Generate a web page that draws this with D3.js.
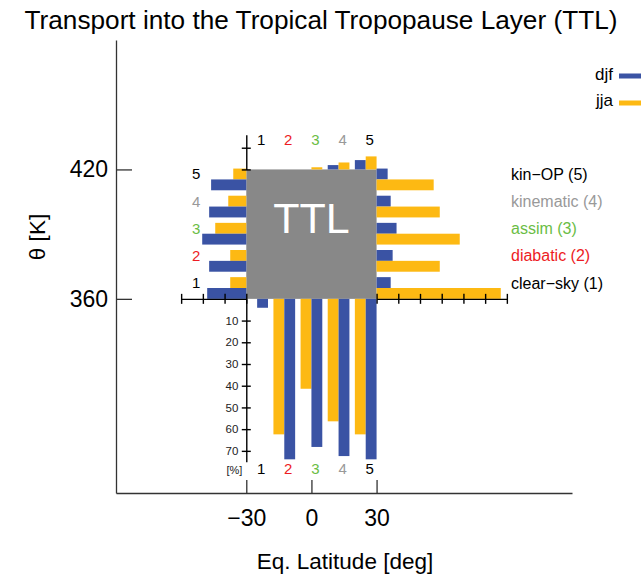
<!DOCTYPE html>
<html lang="en">
<head>
    <meta charset="UTF-8">
    <title>Transport into the TTL</title>
    <script src="https://cdn.jsdelivr.net/npm/d3@7"></script>
    <style type="text/css">
        body { margin: 0; background: #fff; }
        text { font-family: "Liberation Sans", Arial, sans-serif; }
        .main path, .main line { stroke: #333; stroke-width: 1.3; fill: none; }
        .inner path, .inner line { stroke: #000; stroke-width: 1.4; fill: none; }
    </style>
</head>
<body>
<script>
// categories (trajectory types)
const groups = [1, 2, 3, 4, 5];
const groupNames = ["clear\u2212sky (1)", "diabatic (2)", "assim (3)", "kinematic (4)", "kin\u2212OP (5)"];
const seasons = ["djf", "jja"];

// percent of trajectories, per side of the TTL box
const leftDjf = [18, 17.1, 20.3, 17.1, 16.2];
const leftJja = [7.4, 7.4, 14.3, 8.3, 6.0];
const rightDjf = [6.5, 7.4, 9.2, 6.5, 5.1];
const rightJja = [57.2, 29.1, 38.3, 29.1, 26.3];
const topDjf = [0, 0, 0, 2.0, 4.3];
const topJja = [0, 0, 1.0, 3.2, 6.0];
const bottomDjf = [4.1, 73.9, 68.2, 72.4, 73.9];
const bottomJja = [0, 62.4, 41.4, 56.4, 62.4];

// tick labels
const latTicks = [-30, 0, 30];
const thetaTicks = [360, 420];
const pctTicks = [10, 20, 30, 40, 50, 60, 70];

const blue = "#3a53a4", yellow = "#fdb913";
const labelColors = ["#000", "#ed1c24", "#6abd45", "#999", "#000"];

const w = 644, h = 575;
const svg = d3.select("body").append("svg")
    .attr("width", w).attr("height", h);

const x = d3.scaleLinear().domain([-90, 120]).range([116, 572]);
const y = d3.scaleLinear().domain([270, 480]).range([493, 40]);
// percent -> pixels, same unit as one degree latitude
const p = d3.scaleLinear().domain([0, 10]).range([0, x(10) - x(0)]);
const g = d3.scalePoint().domain(groups).range([p(5), p(55)]);
const bw = p(5);

const x0 = x(-30), x1 = x(30), yTop = y(420), yBot = y(360);

// TTL box
svg.append("rect")
    .attr("x", x0).attr("y", yTop)
    .attr("width", x1 - x0).attr("height", yBot - yTop)
    .attr("fill", "#888888");
svg.append("text")
    .attr("x", (x0 + x1) / 2).attr("y", yTop + 64)
    .attr("text-anchor", "middle")
    .attr("fill", "#fff").attr("font-size", 43)
    .text("TTL");

const bars = svg.append("g");
function addBars(vals, fill, rectFn) {
    bars.selectAll(null).data(groups.map((k, i) => ({ k, v: vals[i] })))
        .enter().append("rect")
        .each(function (d) { d3.select(this).attr("x", rectFn(d).x).attr("y", rectFn(d).y)
            .attr("width", rectFn(d).w).attr("height", rectFn(d).h); })
        .attr("fill", fill);
}
// bottom: jja left of boundary, djf right
addBars(bottomJja, yellow, d => ({ x: x0 + g(d.k) - bw, y: yBot, w: bw, h: p(d.v) }));
addBars(bottomDjf, blue, d => ({ x: x0 + g(d.k), y: yBot, w: bw, h: p(d.v) }));
// top: djf left, jja right
addBars(topDjf, blue, d => ({ x: x0 + g(d.k) - bw, y: yTop - p(d.v), w: bw, h: p(d.v) }));
addBars(topJja, yellow, d => ({ x: x0 + g(d.k), y: yTop - p(d.v), w: bw, h: p(d.v) }));
// left: jja above, djf below
addBars(leftJja, yellow, d => ({ x: x0 - p(d.v), y: yBot - g(d.k) - bw, w: p(d.v), h: bw }));
addBars(leftDjf, blue, d => ({ x: x0 - p(d.v), y: yBot - g(d.k), w: p(d.v), h: bw }));
// right: djf above, jja below
addBars(rightDjf, blue, d => ({ x: x1, y: yBot - g(d.k) - bw, w: p(d.v), h: bw }));
addBars(rightJja, yellow, d => ({ x: x1, y: yBot - g(d.k), w: p(d.v), h: bw }));

// inner axes with cross ticks
function crossH(sel) { sel.selectAll(".tick line").attr("y1", -5).attr("y2", 5); }
function crossV(sel) { sel.selectAll(".tick line").attr("x1", -4.5).attr("x2", 4.5); }

const rightS = d3.scaleLinear().domain([0, 60]).range([x1, x1 + p(60)]);
svg.append("g").attr("class", "inner")
    .attr("transform", "translate(0," + yBot + ")")
    .call(d3.axisBottom(rightS).tickValues(d3.range(0, 61, 10)).tickSizeOuter(0).tickFormat(""))
    .call(crossH);

const leftS = d3.scaleLinear().domain([0, 30]).range([x0, x0 - p(30)]);
svg.append("g").attr("class", "inner")
    .attr("transform", "translate(0," + yBot + ")")
    .call(d3.axisBottom(leftS).tickValues(d3.range(0, 31, 10)).tickSizeOuter(0).tickFormat(""))
    .call(crossH);

const topS = d3.scaleLinear().domain([0, 16]).range([yTop, yTop - p(16)]);
svg.append("g").attr("class", "inner")
    .attr("transform", "translate(" + x0 + ",0)")
    .call(d3.axisLeft(topS).tickValues([0, 10]).tickSizeOuter(0).tickFormat(""))
    .call(crossV);

const botS = d3.scaleLinear().domain([0, 75]).range([yBot, yBot + p(75)]);
const botAx = svg.append("g").attr("class", "inner")
    .attr("transform", "translate(" + x0 + ",0)")
    .call(d3.axisLeft(botS).tickValues(pctTicks).tickSizeOuter(0))
    .call(crossV);
botAx.selectAll(".tick text").attr("x", -8).attr("font-size", 11.5)
    .attr("font-family", "Liberation Sans, Arial, sans-serif").attr("fill", "#222");
svg.append("text")
    .attr("x", x0 - 4).attr("y", botS(75) + 12)
    .attr("text-anchor", "end").attr("font-size", 11).attr("fill", "#222")
    .text("[%]");

// group number labels
const num = (sel) => sel.attr("font-size", 15).attr("text-anchor", "middle")
    .attr("fill", (d, i) => labelColors[i]).text(d => d);
svg.selectAll(null).data(groups).enter().append("text")
    .attr("x", d => x0 + g(d) + 4).attr("y", yTop - 24).call(num);
svg.selectAll(null).data(groups).enter().append("text")
    .attr("x", d => x0 + g(d) + 4).attr("y", botS(75) + 12).call(num);
svg.selectAll(null).data(groups).enter().append("text")
    .attr("x", x0 - 50).attr("y", d => yBot - g(d) + 0).call(num);

// category names on the right
svg.selectAll(null).data(groups).enter().append("text")
    .attr("x", 511).attr("y", d => yBot - g(d) + 0.5)
    .attr("font-size", 16).attr("fill", (d, i) => labelColors[i])
    .text((d, i) => groupNames[i]);

// main axes
const xAx = svg.append("g").attr("class", "main")
    .attr("transform", "translate(0," + y(270) + ")")
    .call(d3.axisBottom(x).tickValues(latTicks).tickSizeInner(-13).tickSizeOuter(0)
        .tickFormat(d => d < 0 ? "\u2212" + Math.abs(d) : d));
xAx.selectAll(".tick text").attr("y", 17).attr("font-size", 23)
    .attr("font-family", "Liberation Sans, Arial, sans-serif").attr("fill", "#000");

const yAx = svg.append("g").attr("class", "main")
    .attr("transform", "translate(" + x(-90) + ",0)")
    .call(d3.axisLeft(y).tickValues(thetaTicks).tickSizeInner(-16).tickSizeOuter(0));
yAx.selectAll(".tick text").attr("x", -8).attr("font-size", 23)
    .attr("font-family", "Liberation Sans, Arial, sans-serif").attr("fill", "#000");

// titles
svg.append("text")
    .attr("x", 321).attr("y", 29).attr("text-anchor", "middle")
    .attr("font-size", 26.2).text("Transport into the Tropical Tropopause Layer (TTL)");
svg.append("text")
    .attr("x", 345).attr("y", 569).attr("text-anchor", "middle")
    .attr("font-size", 22.5).text("Eq. Latitude [deg]");
svg.append("text")
    .attr("transform", "translate(45,237) rotate(-90)").attr("text-anchor", "middle")
    .attr("font-size", 22.5).text("\u03b8 [K]");

// legend
const leg = svg.selectAll(null).data(seasons).enter().append("g");
leg.append("text")
    .attr("x", 613).attr("y", (d, i) => 80 + i * 26)
    .attr("text-anchor", "end").attr("font-size", 17).text(d => d);
leg.append("rect")
    .attr("x", 619).attr("y", (d, i) => 73.5 + i * 27)
    .attr("width", 22).attr("height", 5)
    .attr("fill", (d, i) => i === 0 ? blue : yellow);
</script>
</body>
</html>
